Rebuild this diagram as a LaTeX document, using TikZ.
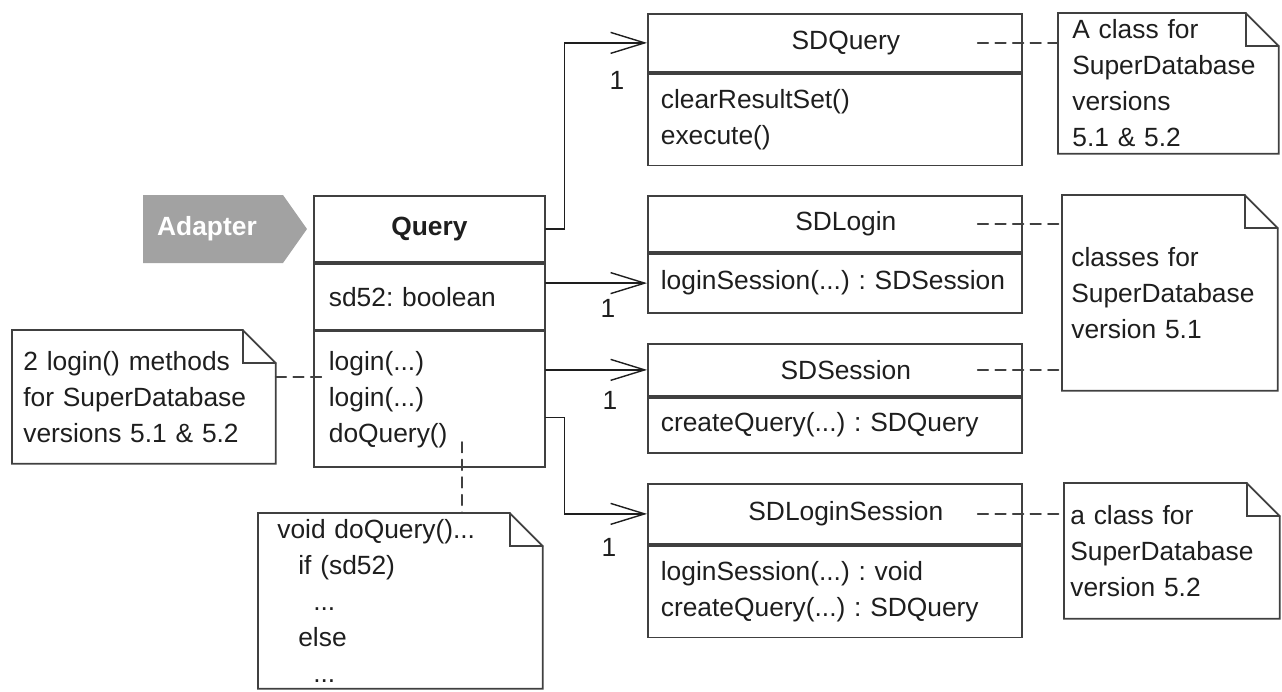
\documentclass[tikz,border=0pt]{standalone}
\usepackage{fontspec}
\setmainfont{Liberation Sans}
\usepackage{tikz}
\usetikzlibrary{arrows.meta,positioning}
\definecolor{linec}{HTML}{404040}
\definecolor{inkc}{HTML}{1E1E1E}
\definecolor{tagc}{HTML}{A2A2A2}
\newcommand{\umlfont}{\fontsize{15}{20.5}\selectfont\frenchspacing\hyphenpenalty=10000}

\begin{document}
\begin{tikzpicture}[x=.02cm,y=-.02cm,line cap=round,
  hdr/.style={draw=linec,line width=1pt,inner sep=0pt,font=\umlfont,text=inkc},
  body/.style={draw=linec,line width=1pt,inner xsep=.26cm,inner ysep=0pt,align=left,
    font=\umlfont,text=inkc},
  note/.style={anchor=north west,inner ysep=0pt,align=left,font=\umlfont,text=inkc},
  mult/.style={font=\umlfont,text=inkc,inner sep=0pt},
  tag/.style={font=\umlfont\bfseries,text=white,inner sep=0pt},
  assoc/.style={draw=inkc,line width=.8pt,-{Straight Barb[length=.68cm,width=.42cm,line width=.8pt]}},
  notelink/.style={draw=linec,line width=1pt,dash pattern=on 6pt off 4pt}]
  \useasboundingbox (0,0) rectangle (1282,691);
  % Pattern tag.
  \fill[tagc] (143,195) -- (283,195) -- (307,229) -- (283,263) -- (143,263) -- cycle;
  \node[tag] (adapter) at (207,229) {Adapter};
  % Query, the adapter class.
  \node[hdr,anchor=north west,minimum width=4.62cm,minimum height=1.32cm,
    font=\umlfont\bfseries] (qh) at (313,195) {Query};
  \node[body,below=0pt of qh,inner xsep=.3cm,text width=4.02cm,minimum height=1.32cm] (qa)
    {sd52: boolean};
  \node[body,below=0pt of qa,inner xsep=.3cm,text width=4.02cm,minimum height=2.72cm] (qo)
    {login(...)\\login(...)\\doQuery()};
  % The four SuperDatabase classes.
  \foreach \nm/\y/\hh/\bh/\title/\ops in {
    sdq/13/1.16/1.84/SDQuery/{clearResultSet()\\execute()},
    sdl/195/1.12/1.18/SDLogin/{loginSession(...) : SDSession},
    sds/343/1.04/1.10/SDSession/{createQuery(...) : SDQuery},
    sdls/483/1.20/1.84/SDLoginSession/{loginSession(...) : void\\createQuery(...) : SDQuery}}{
    \node[hdr,anchor=north west,minimum width=7.48cm,minimum height=\hh cm] (\nm-h)
      at (647,\y) {\hspace*{.44cm}\title};
    \node[body,below=0pt of \nm-h,text width=6.96cm,minimum height=\bh cm] (\nm-b) {\ops};
  }
  % Notes.
  \node[note,inner xsep=.22cm,text width=4.82cm,minimum height=2.66cm] (n1) at (12,330)
    {2 login() methods\\for SuperDatabase\\versions 5.1 \& 5.2};
  \node[note,inner xsep=.28cm,text width=3.84cm,minimum height=2.80cm] (nA) at (1058,13)
    {A class for\\SuperDatabase\\versions\\5.1 \& 5.2};
  \node[note,inner xsep=.18cm,text width=3.94cm,minimum height=3.90cm] (nB) at (1062,195)
    {classes for\\SuperDatabase\\version 5.1};
  \node[note,inner xsep=.12cm,text width=4.06cm,minimum height=2.70cm] (nC) at (1064,483)
    {a class for\\SuperDatabase\\version 5.2};
  \node[note,inner xsep=.38cm,text width=4.92cm,minimum height=3.50cm] (nD) at (258,513)
    {void doQuery()...\\\hspace*{.42cm}if (sd52)\\\hspace*{.72cm}...\\
     \hspace*{.42cm}else\\\hspace*{.72cm}...};
  \foreach \n in {n1,nA,nB,nC,nD}{
    \draw[linec,line width=1pt] (\n.north west) -- ([xshift=-.66cm]\n.north east)
      -- ([yshift=-.66cm]\n.north east) -- (\n.south east) -- (\n.south west) -- cycle;
    \draw[linec,line width=1pt] ([xshift=-.66cm]\n.north east)
      |- ([yshift=-.66cm]\n.north east);
  }
  % Associations with multiplicity 1.
  \draw[assoc] (qh.east) -- ++(19,0) |- (sdq-h.west);
  \draw[assoc] (qa.east |- sdl-b.west) -- (sdl-b.west);
  \draw[assoc] (qo.east |- sds-h.west) -- (sds-h.west);
  \draw[assoc] ([yshift=-.36cm]qo.east) -- ++(19,0) |- (sdls-h.west);
  \node[mult] (m1) at (617,80) {1};
  \node[mult] (m2) at (608,308) {1};
  \node[mult] (m3) at (610,400) {1};
  \node[mult] (m4) at (609,547) {1};
  % Note links.
  \coordinate (lg) at (326,377);
  \coordinate (dq) at (462,442);
  \draw[notelink] (lg -| n1.east) -- (lg);
  \draw[notelink] (dq) -- (dq |- nD.north);
  \draw[notelink] ([xshift=-.9cm]sdq-h.east) -- (sdq-h.east -| nA.west);
  \draw[notelink] ([xshift=-.9cm]sdl-h.east) -- (sdl-h.east -| nB.west);
  \draw[notelink] ([xshift=-.9cm]sds-h.east) -- (sds-h.east -| nB.west);
  \draw[notelink] ([xshift=-.9cm]sdls-h.east) -- (sdls-h.east -| nC.west);
\end{tikzpicture}
\end{document}
